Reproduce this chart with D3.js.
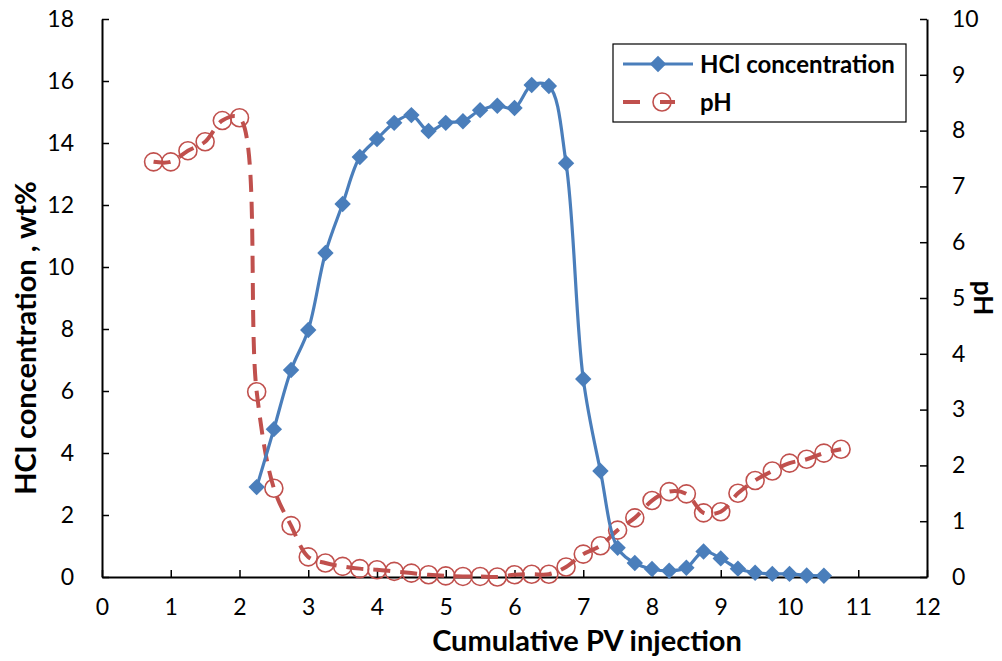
<!DOCTYPE html>
<html>
<head>
<meta charset="utf-8">
<script src="https://cdn.jsdelivr.net/npm/d3@7"></script>
<style>
  body { margin: 0; background: #fff; }
  text { font-family: Lato, "Open Sans", sans-serif; }
</style>
</head>
<body>
<svg id="chart"></svg>
<script>
// values
const hclPV = [2.25, 2.5, 2.75, 3, 3.25, 3.5, 3.75, 4, 4.25, 4.5, 4.75, 5, 5.25, 5.5, 5.75, 6,
  6.25, 6.5, 6.75, 7, 7.25, 7.5, 7.75, 8, 8.25, 8.5, 8.75, 9, 9.25, 9.5, 9.75, 10, 10.25, 10.5];
const hclConc = [2.9, 4.77, 6.68, 7.97, 10.45, 12.03, 13.55, 14.13, 14.65, 14.9, 14.39, 14.65, 14.7, 15.06, 15.2, 15.13,
  15.87, 15.84, 13.35, 6.39, 3.42, 0.94, 0.45, 0.26, 0.2, 0.3, 0.82, 0.6, 0.27, 0.14, 0.1, 0.1, 0.05, 0.04];

const phPV = [0.75, 1, 1.25, 1.5, 1.75, 2, 2.25, 2.5, 2.75, 3, 3.25, 3.5, 3.75, 4, 4.25, 4.5, 4.75, 5,
  5.25, 5.5, 5.75, 6, 6.25, 6.5, 6.75, 7, 7.25, 7.5, 7.75, 8, 8.25, 8.5, 8.75, 9, 9.25, 9.5, 9.75, 10, 10.25, 10.5, 10.75];
const phValues = [7.44, 7.44, 7.64, 7.8, 8.18, 8.23, 3.32, 1.59, 0.92, 0.36, 0.25, 0.19, 0.15, 0.13, 0.1, 0.07, 0.04, 0.02,
  0.01, 0.01, 0.0, 0.04, 0.05, 0.05, 0.18, 0.41, 0.56, 0.84, 1.06, 1.37, 1.53, 1.49, 1.15, 1.17, 1.5, 1.73, 1.9, 2.04, 2.11, 2.22, 2.29];

const xTicks = d3.range(0, 13, 1);
const yLeftTicks = d3.range(0, 19, 2);
const yRightTicks = d3.range(0, 11, 1);

const width = 1002, height = 661;
const margin = {top: 19, right: 75, bottom: 84, left: 102};
const blue = "#4a7ebb", red = "#c0504d";

const svg = d3.select("#chart").attr("width", width).attr("height", height);

const x = d3.scaleLinear().domain([0, 12]).range([margin.left, width - margin.right]);
const yL = d3.scaleLinear().domain([0, 18]).range([height - margin.bottom, margin.top]);
const yR = d3.scaleLinear().domain([0, 10]).range([height - margin.bottom, margin.top]);

const hcl = hclPV.map((v, i) => ({x: v, y: hclConc[i]}));
const ph = phPV.map((v, i) => ({x: v, y: phValues[i]}));

// axes, ticks inside
const styleAxis = g => {
  g.select(".domain").attr("stroke", "#000").attr("stroke-width", 2);
  g.selectAll(".tick line").attr("stroke", "#000").attr("stroke-width", 1.5);
  g.selectAll(".tick text").attr("font-size", 23).attr("fill", "#000");
};

svg.append("g")
    .attr("transform", `translate(0,${height - margin.bottom})`)
    .call(d3.axisBottom(x).tickValues(xTicks).tickSizeInner(-7).tickSizeOuter(0).tickPadding(22))
    .call(styleAxis);

svg.append("g")
    .attr("transform", `translate(${margin.left},0)`)
    .call(d3.axisLeft(yL).tickValues(yLeftTicks).tickSizeInner(-7).tickSizeOuter(0).tickPadding(28))
    .call(styleAxis);

svg.append("g")
    .attr("transform", `translate(${width - margin.right},0)`)
    .call(d3.axisRight(yR).tickValues(yRightTicks).tickSizeInner(-7).tickSizeOuter(0).tickPadding(25))
    .call(styleAxis);

// pH series
const phLine = d3.line().x(d => x(d.x)).y(d => yR(d.y)).curve(d3.curveCatmullRom.alpha(0.5));
svg.append("path")
    .datum(ph)
    .attr("fill", "none")
    .attr("stroke", red)
    .attr("stroke-width", 4)
    .attr("stroke-dasharray", "17,10")
    .attr("d", phLine);

svg.append("g")
  .selectAll("circle")
  .data(ph)
  .join("circle")
    .attr("cx", d => x(d.x))
    .attr("cy", d => yR(d.y))
    .attr("r", 9)
    .attr("fill", "none")
    .attr("stroke", red)
    .attr("stroke-width", 1.6);

// HCl series
const hclLine = d3.line().x(d => x(d.x)).y(d => yL(d.y)).curve(d3.curveCatmullRom.alpha(0.5));
svg.append("path")
    .datum(hcl)
    .attr("fill", "none")
    .attr("stroke", blue)
    .attr("stroke-width", 3.2)
    .attr("d", hclLine);

const diamond = d3.symbol().type(d3.symbolSquare).size(135);
svg.append("g")
  .selectAll("path")
  .data(hcl)
  .join("path")
    .attr("transform", d => `translate(${x(d.x)},${yL(d.y)}) rotate(45)`)
    .attr("d", diamond)
    .attr("fill", blue);

// axis titles
svg.append("text")
    .attr("x", 587)
    .attr("y", 651)
    .attr("text-anchor", "middle")
    .attr("font-size", 29)
    .attr("font-weight", "bold")
    .text("Cumulative PV injection");

svg.append("text")
    .attr("transform", `translate(36,338) rotate(-90)`)
    .attr("text-anchor", "middle")
    .attr("font-size", 29)
    .attr("font-weight", "bold")
    .text("HCl concentration , wt%");

svg.append("text")
    .attr("transform", `translate(974,298) rotate(90)`)
    .attr("text-anchor", "middle")
    .attr("font-size", 26)
    .attr("font-weight", "bold")
    .text("pH");

// legend
const legend = svg.append("g").attr("transform", "translate(613,44)");
legend.append("rect")
    .attr("width", 293).attr("height", 78)
    .attr("fill", "#fff").attr("stroke", "#000").attr("stroke-width", 1.2);

legend.append("line").attr("x1", 10).attr("x2", 80).attr("y1", 20).attr("y2", 20)
    .attr("stroke", blue).attr("stroke-width", 3.2);
legend.append("path").attr("transform", "translate(45,20) rotate(45)").attr("d", diamond).attr("fill", blue);
legend.append("text").attr("x", 87).attr("y", 29).attr("font-size", 24).attr("font-weight", "bold")
    .text("HCl concentration");

legend.append("line").attr("x1", 10).attr("x2", 62).attr("y1", 58).attr("y2", 58)
    .attr("stroke", red).attr("stroke-width", 4).attr("stroke-dasharray", "17,20");
legend.append("circle").attr("cx", 49).attr("cy", 58).attr("r", 9)
    .attr("fill", "none").attr("stroke", red).attr("stroke-width", 1.6);
legend.append("text").attr("x", 87).attr("y", 67).attr("font-size", 24).attr("font-weight", "bold")
    .text("pH");
</script>
</body>
</html>
